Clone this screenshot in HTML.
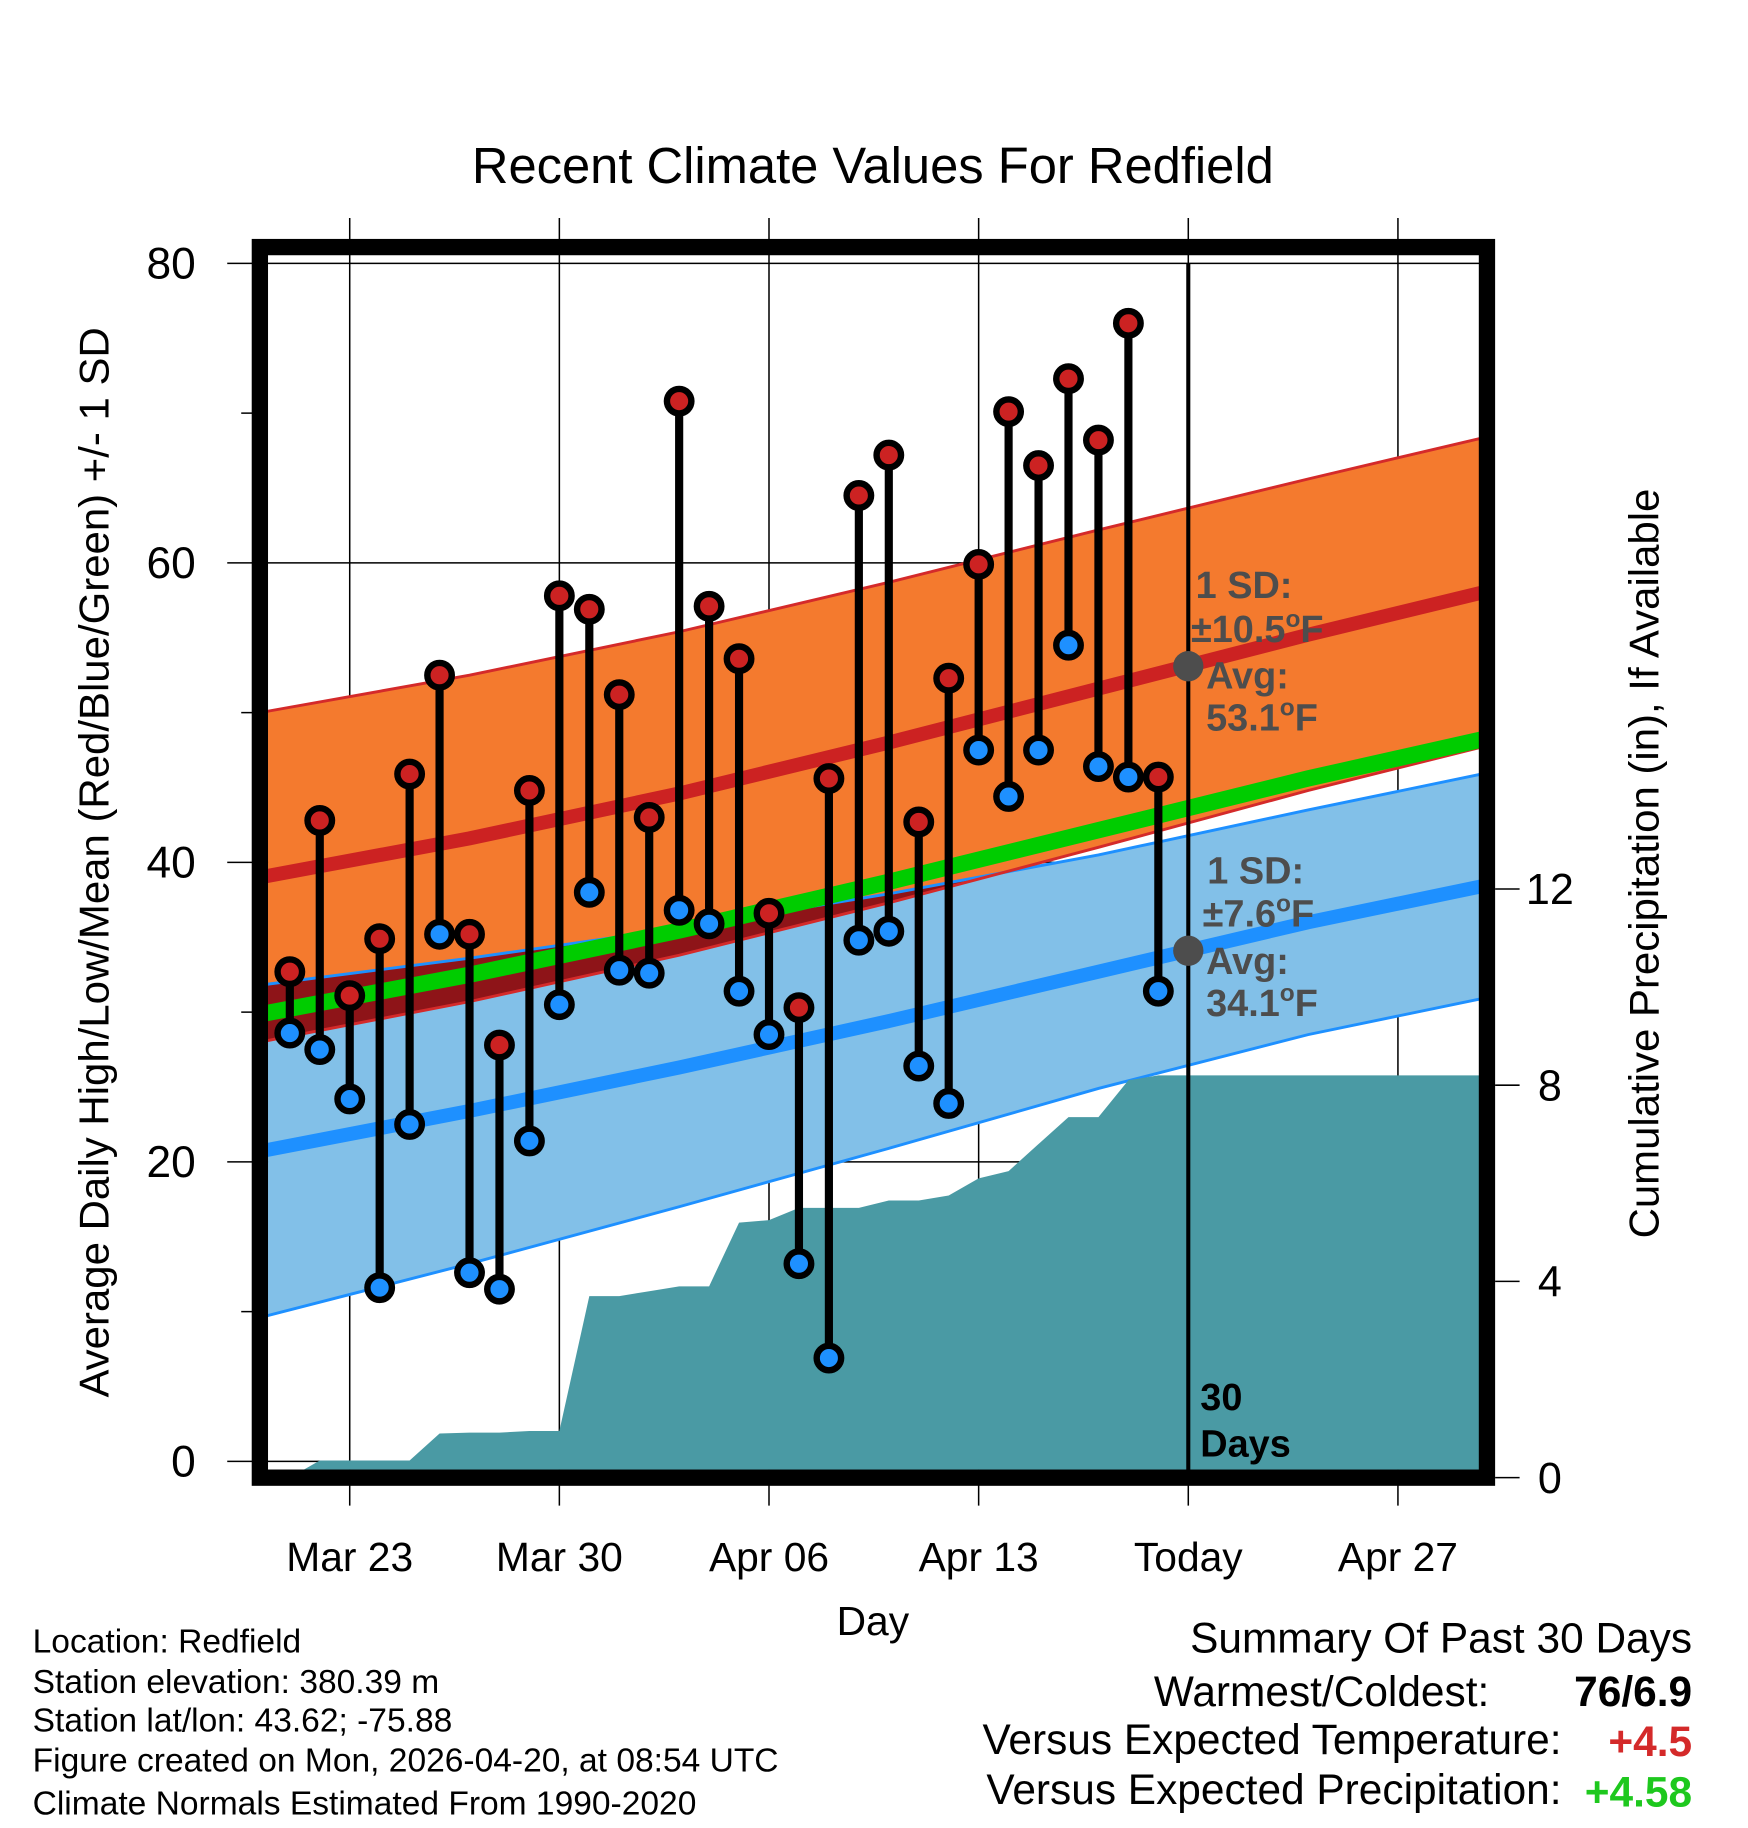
<!DOCTYPE html>
<html><head><meta charset="utf-8">
<style>
html,body{margin:0;padding:0;background:#fff;}
svg{display:block;font-family:"Liberation Sans",Arial,sans-serif;}
</style></head>
<body>
<svg id="chart" width="1748" height="1828" viewBox="0 0 1500 1568.6" xmlns="http://www.w3.org/2000/svg">
<defs>
<clipPath id="plotClip"><rect x="230" y="219" width="1040" height="1042"/></clipPath>
<clipPath id="orangeClip"><path id="orangeClipPath" d=""/></clipPath>
</defs>
<rect x="0" y="0" width="1500" height="1568.6" fill="#fff"/>
<text x="749" y="157" font-size="43.5" text-anchor="middle">Recent Climate Values For Redfield</text>
<g id="grid"></g>
<g id="plot" clip-path="url(#plotClip)"></g>
<g id="marks"></g>
<g id="axes"></g>
<text transform="translate(93,740) rotate(-90)" font-size="36" text-anchor="middle">Average Daily High/Low/Mean (Red/Blue/Green) +/- 1 SD</text>
<text transform="translate(1423,741) rotate(-90)" font-size="36" text-anchor="middle">Cumulative Precipitation (in), If Available</text>
<text x="749" y="1403" font-size="35" text-anchor="middle">Day</text>
<g font-size="28.8">
<text x="28" y="1418">Location: Redfield</text>
<text x="28" y="1453">Station elevation: 380.39 m</text>
<text x="28" y="1486">Station lat/lon: 43.62; -75.88</text>
<text x="28" y="1520">Figure created on Mon, 2026-04-20, at 08:54 UTC</text>
<text x="28" y="1557">Climate Normals Estimated From 1990-2020</text>
</g>
<g font-size="36.4">
<text x="1452" y="1418" text-anchor="end">Summary Of Past 30 Days</text>
<text x="1278" y="1464" text-anchor="end">Warmest/Coldest:</text>
<text x="1452" y="1464" text-anchor="end" font-weight="bold">76/6.9</text>
<text x="1340" y="1505" text-anchor="end">Versus Expected Temperature:</text>
<text x="1452" y="1507" text-anchor="end" font-weight="bold" fill="#d42a2a">+4.5</text>
<text x="1340" y="1548" text-anchor="end">Versus Expected Precipitation:</text>
<text x="1452" y="1550" text-anchor="end" font-weight="bold" fill="#1ec81e">+4.58</text>
</g>
</svg>
<script>
// ---- data ----
const dayLabels = ["Mar 23","Mar 30","Apr 06","Apr 13","Today","Apr 27"];
const dayTicks = [3,10,17,24,31,38];
const yTicks = [0,20,40,60,80];
const yMinorTicks = [10,30,50,70];
const precipTicks = [0,4,8,12];
const obsDays = [1,2,3,4,5,6,7,8,9,10,11,12,13,14,15,16,17,18,19,20,21,22,23,24,25,26,27,28,29,30];
const highs = [32.7,42.8,31.1,34.9,45.9,52.5,35.2,27.8,44.8,57.8,56.9,51.2,43.0,70.8,57.1,53.6,36.6,30.3,45.6,64.5,67.2,42.7,52.3,59.9,70.1,66.5,72.3,68.2,76.0,45.7];
const lows = [28.6,27.5,24.2,11.6,22.5,35.2,12.6,11.5,21.4,30.5,38.0,32.8,32.6,36.8,35.9,31.4,28.5,13.2,6.9,34.8,35.4,26.4,23.9,47.5,44.4,47.5,54.5,46.4,45.7,31.4];
const precipDays = [0,1,2,3,4,5,6,7,8,9,10,11,12,13,14,15,16,17,18,19,20,21,22,23,24,25,26,27,28,29,30,41];
const precipCum = [0,0,0.35,0.35,0.35,0.35,0.9,0.92,0.92,0.95,0.95,3.7,3.7,3.8,3.9,3.9,5.2,5.25,5.5,5.5,5.5,5.65,5.65,5.75,6.1,6.25,6.8,7.35,7.35,8.1,8.2,8.2];
const normalDays = [0,7,14,21,28,35,42];
const normalHigh = [39.0,41.6,44.6,48.0,51.6,55.2,58.6];
const normalLow = [20.7,23.4,26.3,29.4,32.7,36.0,38.9];
const sdHigh = [11.0,10.9,10.8,10.7,10.6,10.4,10.3];
const sdLow = [11.1,10.2,9.3,8.5,7.8,7.5,7.5];
const todayDay = 31, todayHigh = 53.1, todayLow = 34.1;

// ---- scales ----
const X = d => 223 + d*25.7;
const Y = v => 1254 - v*12.85;
const YP = p => 1268 - p*42.1;
const NS = "http://www.w3.org/2000/svg";
function mk(parent, tag, attrs){const e=document.createElementNS(NS,tag);for(const k in attrs)e.setAttribute(k,attrs[k]);parent.appendChild(e);return e;}
const grid=document.getElementById('grid'), plot=document.getElementById('plot'), marks=document.getElementById('marks'), axes=document.getElementById('axes');

function pts(vals){return normalDays.map((d,i)=>X(d).toFixed(1)+","+Y(vals[i]).toFixed(1));}
function band(upper, lower){const a=pts(upper), b=pts(lower).reverse();return "M"+a.join("L")+"L"+b.join("L")+"Z";}
const hiUp=normalHigh.map((v,i)=>v+sdHigh[i]), hiDn=normalHigh.map((v,i)=>v-sdHigh[i]);
const loUp=normalLow.map((v,i)=>v+sdLow[i]), loDn=normalLow.map((v,i)=>v-sdLow[i]);
const mean=normalHigh.map((v,i)=>(v+normalLow[i])/2);

// grid
yTicks.forEach(v=>{const l=mk(grid,'line',{x1:195,x2:1270,y1:Y(v),y2:Y(v),stroke:'#000','stroke-width':1.3});

});
dayTicks.forEach(d=>{const l=mk(grid,'line',{x1:X(d),x2:X(d),y1:187,y2:1292,stroke:'#000','stroke-width':1.3});

});

// bands
document.getElementById('orangeClipPath').setAttribute('d',band(hiUp,hiDn));
let e;
e=mk(plot,'path',{d:band(loUp,loDn),fill:'#82c0e8'});


e=mk(plot,'path',{d:band(hiUp,hiDn),fill:'#f47a2e'});


const ov=mk(plot,'g',{'clip-path':'url(#orangeClip)'});
e=mk(ov,'path',{d:band(loUp,loDn),fill:'#8e1418'});


function line(vals,color,w,name){const l=mk(plot,'polyline',{points:pts(vals).join(" "),fill:'none',stroke:color,'stroke-width':w});

}
line(loUp,'#1e90ff',2.5,'low-sd-upper');
line(loDn,'#1e90ff',2.5,'low-sd-lower');
line(hiUp,'#d42a2a',2.5,'high-sd-upper');
line(hiDn,'#d42a2a',2.5,'high-sd-lower');
line(normalLow,'#1e90ff',12,'normal-low-line');
line(normalHigh,'#cc2222',12,'normal-high-line');
line(mean,'#00cc00',14,'normal-mean-line');

// precipitation
let pd="M"+X(precipDays[0])+","+YP(0);
precipDays.forEach((d,i)=>{pd+="L"+X(d).toFixed(1)+","+YP(precipCum[i]).toFixed(1);});
pd+="L"+X(precipDays[precipDays.length-1])+","+YP(0)+"Z";
e=mk(plot,'path',{d:pd,fill:'#4a9aa4'});



// today line
e=mk(marks,'line',{x1:X(todayDay),x2:X(todayDay),y1:226,y2:1262,stroke:'#000','stroke-width':3.5});



// daily stems and points
obsDays.forEach((d,i)=>{
  const s=mk(marks,'line',{x1:X(d),x2:X(d),y1:Y(highs[i]),y2:Y(lows[i]),stroke:'#000','stroke-width':7});
  
  
});
obsDays.forEach((d,i)=>{
  const h=mk(marks,'circle',{cx:X(d),cy:Y(highs[i]),r:10.5,fill:'#cc2222',stroke:'#000','stroke-width':5.5});
  
  
  const l=mk(marks,'circle',{cx:X(d),cy:Y(lows[i]),r:10.5,fill:'#1e90ff',stroke:'#000','stroke-width':5.5});
  
  
});

// today markers & annotations
e=mk(marks,'circle',{cx:X(todayDay),cy:Y(todayHigh),r:13,fill:'#4d4d4d'});


e=mk(marks,'circle',{cx:X(todayDay),cy:Y(todayLow),r:13,fill:'#4d4d4d'});


function ann(x,y,txt,name,color){const t=mk(marks,'text',{x:x,y:y,'font-size':32.5,'font-weight':'bold',fill:color||'#4d4d4d'});t.innerHTML=txt;

}
ann(1026,513,'1 SD:','high-sd-label');
ann(1022,551,'±10.5<tspan font-size="21" dy="-13">o</tspan><tspan dy="13">F</tspan>','high-sd-value');
ann(1035,591,'Avg:','high-avg-label');
ann(1035,627,'53.1<tspan font-size="21" dy="-13">o</tspan><tspan dy="13">F</tspan>','high-avg-value');
ann(1036,758,'1 SD:','low-sd-label');
ann(1032,795,'±7.6<tspan font-size="21" dy="-13">o</tspan><tspan dy="13">F</tspan>','low-sd-value');
ann(1035,836,'Avg:','low-avg-label');
ann(1035,872,'34.1<tspan font-size="21" dy="-13">o</tspan><tspan dy="13">F</tspan>','low-avg-value');
ann(1030,1210,'30','days-count-label','#000');
ann(1030,1250,'Days','days-word-label','#000');

// frame
e=mk(axes,'rect',{x:223,y:212,width:1053,height:1056,fill:'none',stroke:'#000','stroke-width':14});



// y ticks
yTicks.forEach(v=>{const t=mk(axes,'text',{x:168,y:Y(v)+13,'font-size':38,'text-anchor':'end'});t.textContent=v;

});
yMinorTicks.forEach(v=>{const l=mk(axes,'line',{x1:207,x2:222,y1:Y(v),y2:Y(v),stroke:'#000','stroke-width':1.3});

});
// x ticks
dayTicks.forEach((d,i)=>{const t=mk(axes,'text',{x:X(d),y:1348,'font-size':35,'text-anchor':'middle'});t.textContent=dayLabels[i];

});
// right ticks
precipTicks.forEach(p=>{const l=mk(axes,'line',{x1:1283,x2:1304,y1:YP(p),y2:YP(p),stroke:'#000','stroke-width':1.3});


const t=mk(axes,'text',{x:1330,y:YP(p)+13,'font-size':37,'text-anchor':'middle'});t.textContent=p;

});
</script>
</body></html>
